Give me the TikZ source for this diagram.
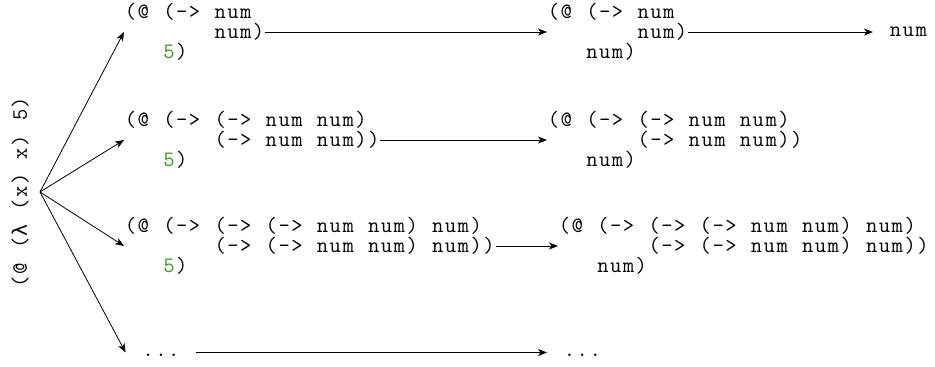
\documentclass[tikz,border=0pt]{standalone}
\usepackage{fontspec}
\usetikzlibrary{arrows.meta}
\newfontfamily\lamfont{DejaVu Sans Mono}
\definecolor{litgreen}{RGB}{60,150,40}
\newlength\cwid
\setlength\cwid{12.8pt}
\ExplSyntaxOn
\NewDocumentCommand\cc{m}{\str_map_inline:nn{#1}{\makebox[\cwid][c]{##1}}}
\ExplSyntaxOff
\newcommand\ind[1]{\hspace*{#1\cwid}}
\newcommand\five{\textcolor{litgreen}{\cc{5}}\cc{)}}
\newcommand\codefont{\fontsize{22}{20}\selectfont\ttfamily\lineskiplimit=-100pt\relax\lineskip=0pt\relax}
\tikzset{
  code/.style={font=\codefont, inner sep=0pt, align=left},
  dots/.style={code, inner xsep=16pt, text height=8pt, text depth=0pt},
  arr/.style={-{Stealth[length=9pt,width=7pt,inset=2.5pt]}, line width=0.8pt}
}
\begin{document}
\begin{tikzpicture}[x=1pt,y=1pt]
\useasboundingbox (0,0) rectangle (935,-367);
% source term (vertical)
\node[code, rotate=90, anchor=base] (src) at (27,-192) {\cc{(@ (}\makebox[\cwid]{\fontsize{20}{20}\selectfont\lamfont λ}\cc{ (x) x) 5)}};
\coordinate (fan) at (40,-192);
% left column
\node[code, anchor=west] (L1) at (124,-32) {\cc{(@ (-> num}\\\ind{7}\cc{num)}\\\ind{3}\five};
\node[code, anchor=west] (L2) at (124,-140) {\cc{(@ (-> (-> num num)}\\\ind{7}\cc{(-> num num))}\\\ind{3}\five};
\node[code, anchor=west] (L3) at (124,-246) {\cc{(@ (-> (-> (-> num num) num)}\\\ind{7}\cc{(-> (-> num num) num))}\\\ind{3}\five};
\node[dots, anchor=west] (L4) at (125.6,-352.5) {\cc{...}};
% right column
\node[code, anchor=west] (R1) at (547,-32) {\cc{(@ (-> num}\\\ind{7}\cc{num)}\\\ind{3}\cc{num)}};
\node[code, anchor=west] (R2) at (547,-140) {\cc{(@ (-> (-> num num)}\\\ind{7}\cc{(-> num num))}\\\ind{3}\cc{num)}};
\node[code, anchor=west] (R3) at (558,-246) {\cc{(@ (-> (-> (-> num num) num)}\\\ind{7}\cc{(-> (-> num num) num))}\\\ind{3}\cc{num)}};
\node[dots, anchor=west] (R4) at (547,-352.5) {\cc{...}};
% final
\node[code, anchor=west] (F1) at (889,-32) {\cc{num}};
% fan arrows
\draw[arr] (fan) -- (L1.west);
\draw[arr] (fan) -- (L2.west);
\draw[arr] (fan) -- (L3.west);
\draw[arr] (fan) -- (L4.west);
% reduction arrows
\draw[arr] (L1.east) -- (R1.west);
\draw[arr, shorten >=16pt] (R1.east) -- (F1.west);
\draw[arr] (L2.east) -- (R2.west);
\draw[arr] (L3.east) -- (R3.west);
\draw[arr] (L4.east) -- (R4.west);
\end{tikzpicture}
\end{document}
